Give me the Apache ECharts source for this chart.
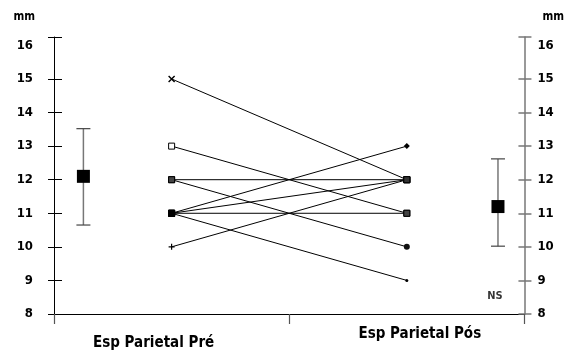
<!DOCTYPE html>
<html>
<head>
<meta charset="utf-8">
<script src="https://cdn.jsdelivr.net/npm/echarts@6/dist/echarts.min.js"></script>
<style>
  html, body { margin: 0; padding: 0; background: #fff; }
  #chart { width: 567px; height: 353px; }
</style>
</head>
<body>
<div id="chart"></div>
<script>
// Paired parietal thickness (mm) before and after
const categories = ['Esp Parietal Pré', 'Esp Parietal Pós'];
const preValues  = [15, 13, 12, 12, 11, 11, 11, 11, 10];
const postValues = [12, 11, 12, 10, 13, 12, 11,  9, 12];

// Group summaries (mean with range bar) shown beside each axis
const summaryPos  = [1, 15.1];
const summaryMean = [12.1, 11.2];
const summaryLow  = [10.65, 10.02];
const summaryHigh = [13.52, 12.62];

const tickLabels = [8, 9, 10, 11, 12, 13, 14, 15, 16];
const tickMarks  = [8, 9, 10, 11, 12, 13, 14, 15, 16.25];

const FONT = '"DejaVu Sans Condensed", "DejaVu Sans", sans-serif';

// marker look for each measured value
const crossPath = 'path://M0,0L10,10M10,0L0,10';
const plusPath  = 'path://M5,0L5,10M0,5L10,5';
const preStyle = {
  15: { symbol: crossPath, symbolSize: 6, itemStyle: { color: 'none', borderColor: '#000', borderWidth: 1.4 } },
  13: { symbol: 'rect', symbolSize: 6, itemStyle: { color: '#fff', borderColor: '#000', borderWidth: 1 } },
  12: { symbol: 'rect', symbolSize: 6, itemStyle: { color: '#444', borderColor: '#000', borderWidth: 1 } },
  11: { symbol: 'rect', symbolSize: 6, itemStyle: { color: '#000', borderColor: '#000', borderWidth: 1 } },
  10: { symbol: plusPath, symbolSize: 6, itemStyle: { color: 'none', borderColor: '#000', borderWidth: 1.2 } }
};
const postStyle = {
  13: { symbol: 'diamond', symbolSize: 6, itemStyle: { color: '#000' } },
  12: { symbol: 'rect', symbolSize: 6, itemStyle: { color: '#333', borderColor: '#000', borderWidth: 1 } },
  11: { symbol: 'rect', symbolSize: 6, itemStyle: { color: '#444', borderColor: '#000', borderWidth: 1 } },
  10: { symbol: 'circle', symbolSize: 6, itemStyle: { color: '#111' } },
  9:  { symbol: 'circle', symbolSize: 3, itemStyle: { color: '#000' } }
};

const pairSeries = preValues.map((pre, i) => {
  const post = postValues[i];
  return {
    type: 'line',
    xAxisIndex: 0,
    yAxisIndex: 0,
    silent: true,
    animation: false,
    lineStyle: { color: '#000', width: 1 },
    data: [
      Object.assign({ value: pre }, preStyle[pre]),
      Object.assign({ value: post }, postStyle[post])
    ],
    z: 3
  };
});

const summarySeries = {
  type: 'custom',
  xAxisIndex: 1,
  yAxisIndex: 0,
  animation: false,
  data: summaryPos.map((x, i) => [x, summaryMean[i], summaryLow[i], summaryHigh[i]]),
  renderItem: function (params, api) {
    const x = api.value(0);
    const mean = api.coord([x, api.value(1)]);
    const lo = api.coord([x, api.value(2)]);
    const hi = api.coord([x, api.value(3)]);
    const cap = 7, half = 6.5;
    return {
      type: 'group',
      children: [
        { type: 'line', shape: { x1: lo[0], y1: lo[1], x2: hi[0], y2: hi[1] },
          style: { stroke: '#777', lineWidth: 1.5 } },
        { type: 'line', shape: { x1: hi[0] - cap, y1: hi[1], x2: hi[0] + cap, y2: hi[1] },
          style: { stroke: '#444', lineWidth: 1.2 } },
        { type: 'line', shape: { x1: lo[0] - cap, y1: lo[1], x2: lo[0] + cap, y2: lo[1] },
          style: { stroke: '#444', lineWidth: 1.2 } },
        { type: 'rect', shape: { x: mean[0] - half, y: mean[1] - half, width: half * 2, height: half * 2 },
          style: { fill: '#000' } }
      ]
    };
  }
};

const noteSeries = {
  type: 'scatter',
  xAxisIndex: 1,
  yAxisIndex: 0,
  symbolSize: 0,
  silent: true,
  animation: false,
  data: [[15.0, 8.52]],
  label: {
    show: true, position: 'inside', formatter: 'NS',
    fontFamily: FONT, fontWeight: 'bold', fontSize: 11, color: '#000'
  }
};

function valueAxis(position, color, width, withLabels, tickInside, tickLen) {
  return {
    type: 'value',
    position: position,
    min: 8,
    max: 16.25,
    splitLine: { show: false },
    axisLine: { show: withLabels, onZero: false, lineStyle: { color: color, width: width } },
    axisTick: {
      show: true, inside: tickInside, length: tickLen,
      customValues: tickMarks,
      lineStyle: { color: color, width: width }
    },
    axisLabel: {
      show: withLabels,
      customValues: tickLabels,
      margin: position === 'left' ? 21 : 13,
      fontFamily: FONT, fontWeight: 'bold', fontSize: 13, color: '#000'
    }
  };
}

const leftAxis = valueAxis('left', '#000', 1, true, false, 6);
leftAxis.name = 'mm';
leftAxis.nameLocation = 'end';
leftAxis.nameGap = 20;
leftAxis.nameTextStyle = { align: 'right', verticalAlign: 'middle', padding: [0, 19, 0, 0],
  fontFamily: FONT, fontWeight: 'bold', fontSize: 11.5, color: '#000' };

const rightAxis = valueAxis('right', '#777', 1.5, true, false, 7);
rightAxis.name = 'mm';
rightAxis.nameLocation = 'end';
rightAxis.nameGap = 20;
rightAxis.nameTextStyle = { align: 'left', verticalAlign: 'middle', padding: [0, 0, 0, 18],
  fontFamily: FONT, fontWeight: 'bold', fontSize: 11.5, color: '#000' };

const option = {
  backgroundColor: '#fff',
  animation: false,
  grid: { left: 54, right: 39, top: 37, bottom: 39, containLabel: false },
  xAxis: [
    {
      type: 'category',
      data: [
        { value: categories[0], textStyle: { padding: [9, 36, 0, 0] } },
        { value: categories[1], textStyle: { padding: [0, 0, 0, 26] } }
      ],
      boundaryGap: true,
      axisLine: { lineStyle: { color: '#000', width: 1 } },
      axisTick: { show: true, length: 10, lineStyle: { color: '#555', width: 1.2 } },
      axisLabel: { margin: 13, fontFamily: FONT, fontWeight: 'bold', fontSize: 15, color: '#000' },
      splitLine: { show: false }
    },
    { type: 'value', min: 0, max: 16, show: false }
  ],
  yAxis: [
    leftAxis,
    valueAxis('left', '#000', 1, false, true, 8),
    rightAxis,
    valueAxis('right', '#777', 1.5, false, true, 6)
  ],
  series: pairSeries.concat([summarySeries, noteSeries])
};

const chart = echarts.init(document.getElementById('chart'), null, { renderer: 'canvas' });
chart.setOption(option);
</script>
</body>
</html>
